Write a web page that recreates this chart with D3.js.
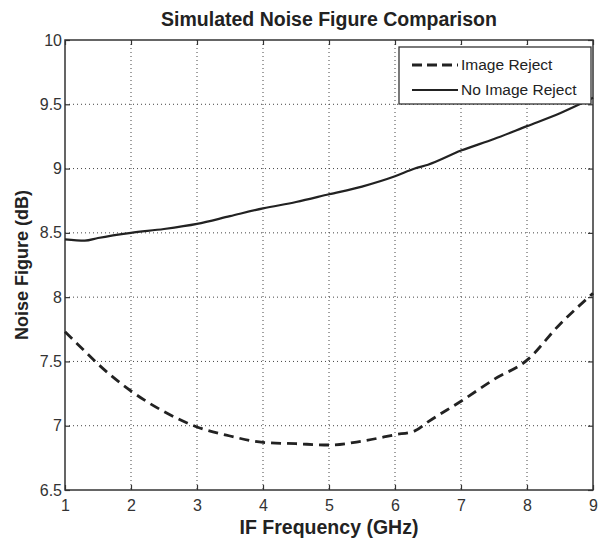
<!DOCTYPE html>
<html>
<head>
<meta charset="utf-8">
<script src="https://cdn.jsdelivr.net/npm/d3@7"></script>
<style>
  html, body { margin: 0; padding: 0; background: #fff; }
  svg { display: block; font-family: "Liberation Sans", Arial, sans-serif; }
</style>
</head>
<body>
<svg id="chart" width="600" height="546"></svg>
<script>
// IF frequency sample points (GHz)
const freqs = [1, 1.3, 1.5, 2, 2.5, 3, 3.5, 4, 4.5, 5, 5.5, 6, 6.3, 6.5, 7, 7.5, 8, 8.5, 9];
// Noise figure (dB) with image-reject mixer
const imageReject = [7.73, 7.58, 7.48, 7.27, 7.11, 6.99, 6.92, 6.87, 6.86, 6.85, 6.88, 6.93, 6.96, 7.03, 7.19, 7.36, 7.51, 7.79, 8.03];
// Noise figure (dB) without image reject
const noImageReject = [8.45, 8.44, 8.46, 8.50, 8.53, 8.57, 8.63, 8.69, 8.74, 8.80, 8.86, 8.94, 9.00, 9.03, 9.14, 9.23, 9.33, 9.43, 9.55];

const xTicks = [1, 2, 3, 4, 5, 6, 7, 8, 9];
const yTicks = [6.5, 7, 7.5, 8, 8.5, 9, 9.5, 10];
const seriesNames = ["Image Reject", "No Image Reject"];

const svg = d3.select("#chart");
const plot = { left: 65, right: 593, top: 40, bottom: 490 };

const x = d3.scaleLinear().domain([1, 9]).range([plot.left, plot.right]);
const y = d3.scaleLinear().domain([6.5, 10]).range([plot.bottom, plot.top]);

const ink = "#222";
const axisInk = "#333";

// dotted grid
const grid = svg.append("g").attr("stroke", "#444").attr("stroke-width", 1)
  .attr("stroke-dasharray", "1,3");
xTicks.slice(1, -1).forEach(t => {
  grid.append("line").attr("x1", x(t)).attr("x2", x(t)).attr("y1", plot.top).attr("y2", plot.bottom);
});
yTicks.slice(1, -1).forEach(t => {
  grid.append("line").attr("x1", plot.left).attr("x2", plot.right).attr("y1", y(t)).attr("y2", y(t));
});

// axes with inward ticks on all four sides
const tickLen = 5;
const fmt = d => d3.format("~g")(d);
const xAxisB = d3.axisBottom(x).tickValues(xTicks).tickSizeInner(-tickLen).tickSizeOuter(0).tickPadding(7).tickFormat(fmt);
const xAxisT = d3.axisTop(x).tickValues(xTicks).tickSizeInner(-tickLen).tickSizeOuter(0).tickFormat("");
const yAxisL = d3.axisLeft(y).tickValues(yTicks).tickSizeInner(-tickLen).tickSizeOuter(0).tickPadding(3).tickFormat(fmt);
const yAxisR = d3.axisRight(y).tickValues(yTicks).tickSizeInner(-tickLen).tickSizeOuter(0).tickFormat("");

function style(g) {
  g.select(".domain").remove();
  g.selectAll("line").attr("stroke", axisInk).attr("stroke-width", 1.2);
  g.selectAll("text").attr("fill", "#333").attr("font-size", 16)
    .attr("font-family", "'Liberation Sans', Arial, sans-serif");
}
svg.append("g").attr("transform", `translate(0,${plot.bottom})`).call(xAxisB).call(style)
  .selectAll("text").attr("dy", "0.9em");
svg.append("g").attr("transform", `translate(0,${plot.top})`).call(xAxisT).call(style);
svg.append("g").attr("transform", `translate(${plot.left},0)`).call(yAxisL).call(style);
svg.append("g").attr("transform", `translate(${plot.right},0)`).call(yAxisR).call(style);

// plot box
svg.append("rect").attr("x", plot.left).attr("y", plot.top)
  .attr("width", plot.right - plot.left).attr("height", plot.bottom - plot.top)
  .attr("fill", "none").attr("stroke", axisInk).attr("stroke-width", 1.5);

// curves
const line = d3.line().x(d => x(d[0])).y(d => y(d[1])).curve(d3.curveMonotoneX);
svg.append("path").datum(freqs.map((f, i) => [f, noImageReject[i]]))
  .attr("d", line).attr("fill", "none").attr("stroke", ink).attr("stroke-width", 2.2);
svg.append("path").datum(freqs.map((f, i) => [f, imageReject[i]]))
  .attr("d", line).attr("fill", "none").attr("stroke", ink).attr("stroke-width", 2.8)
  .attr("stroke-dasharray", "10,6");

// legend
const lg = svg.append("g");
lg.append("rect").attr("x", 399).attr("y", 47).attr("width", 192).attr("height", 57)
  .attr("fill", "#fff").attr("stroke", axisInk).attr("stroke-width", 1.3);
const legendStyles = [{ dash: "10,5", w: 2.8 }, { dash: null, w: 2.2 }];
seriesNames.forEach((name, i) => {
  const ly = 65 + i * 25;
  const l = lg.append("line").attr("x1", 412).attr("x2", 458).attr("y1", ly).attr("y2", ly)
    .attr("stroke", ink).attr("stroke-width", legendStyles[i].w);
  if (legendStyles[i].dash) l.attr("stroke-dasharray", legendStyles[i].dash);
  lg.append("text").attr("x", 461).attr("y", ly).attr("dy", "0.35em")
    .attr("font-size", 15.5).attr("fill", "#222").text(name);
});

// titles
svg.append("text").attr("x", (plot.left + plot.right) / 2).attr("y", 26).attr("text-anchor", "middle")
  .attr("font-size", 19.5).attr("font-weight", "bold").attr("fill", "#222")
  .text("Simulated Noise Figure Comparison");
svg.append("text").attr("x", (plot.left + plot.right) / 2).attr("y", 534).attr("text-anchor", "middle")
  .attr("font-size", 19.5).attr("font-weight", "bold").attr("fill", "#222")
  .text("IF Frequency (GHz)");
svg.append("text").attr("transform", `translate(28,${(plot.top + plot.bottom) / 2}) rotate(-90)`)
  .attr("text-anchor", "middle").attr("font-size", 18).attr("font-weight", "bold").attr("fill", "#222")
  .text("Noise Figure (dB)");
</script>
</body>
</html>
